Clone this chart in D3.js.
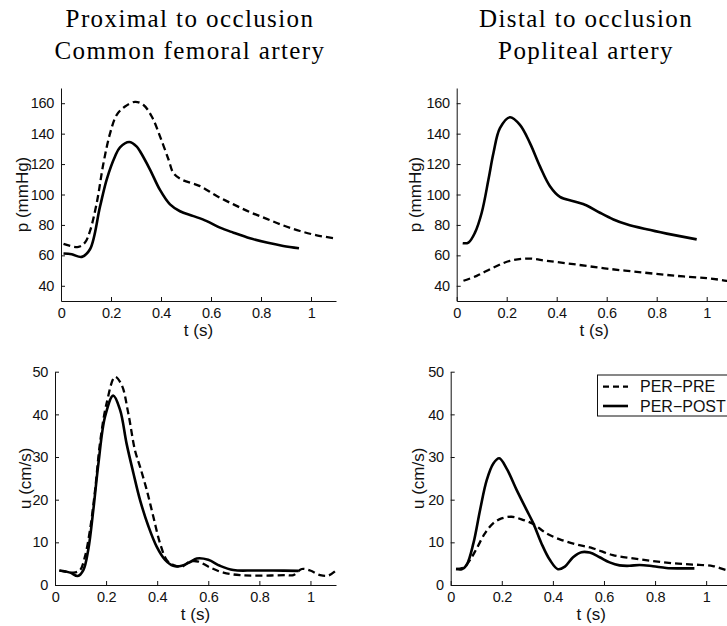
<!DOCTYPE html>
<html><head><meta charset="utf-8">
<script src="https://cdn.jsdelivr.net/npm/d3@7"></script>
<style>body{margin:0;background:#fff}svg{display:block}</style>
</head><body><svg id="c" width="727" height="626"></svg>
<script>
// ---------- data ----------
const seriesNames = ["PER\u2212PRE", "PER\u2212POST"];
const xTicks = [0, 0.2, 0.4, 0.6, 0.8, 1];
const pTicks = [40, 60, 80, 100, 120, 140, 160];
const uTicks = [0, 10, 20, 30, 40, 50];
const titlesLeft = ["Proximal to occlusion", "Common femoral artery"];
const titlesRight = ["Distal to occlusion", "Popliteal artery"];

// Common femoral artery pressure
const cfaPPostT = [0.01,0.043,0.083,0.116,0.156,0.183,0.216,0.236,0.273,0.303,0.316,0.356,0.396,0.436,0.476,0.53,0.583,0.636,0.69,0.756,0.823,0.889,0.952];
const cfaPPostV = [61.2,60.7,59,64,92,110,125,131,134.5,131.5,128.4,116.4,103,93.5,89,85.8,82.5,78.2,74.9,71.2,68.4,66.2,64.7];
const cfaPPreT = [0.01,0.07,0.096,0.116,0.143,0.17,0.196,0.223,0.256,0.296,0.329,0.363,0.396,0.43,0.45,0.483,0.556,0.623,0.69,0.756,0.823,0.889,0.956,1.023,1.1];
const cfaPPreV = [67.5,65.5,68.4,76,94.5,120.7,140,152.4,157.8,160.9,159,151.3,138.2,123,114,109.8,105.5,99,93.5,88.4,84,79.7,76,73.2,71];

// Popliteal artery pressure
const popPPostT = [0.024,0.047,0.073,0.1,0.127,0.147,0.173,0.213,0.253,0.293,0.333,0.373,0.413,0.467,0.52,0.573,0.627,0.68,0.76,0.84,0.96];
const popPPostV = [68,68.4,74.9,88,109.8,127.3,143.6,150.8,145.8,133.8,118.5,105.5,98.5,95.6,92.8,88,83.6,80.4,77.1,74.3,70.5];
const popPPreT = [0.027,0.08,0.147,0.213,0.287,0.36,0.467,0.6,0.747,0.88,1.0,1.08,1.1];
const popPPreV = [43.3,46.5,52,56.4,57.9,56.4,54.2,51.3,48.7,46.5,45,43.3,42.6];

// Common femoral artery velocity
const cfaUPostT = [0.017,0.059,0.089,0.111,0.13,0.15,0.17,0.196,0.228,0.255,0.28,0.307,0.333,0.366,0.398,0.431,0.463,0.496,0.529,0.555,0.6,0.646,0.698,0.777,0.855,0.953];
const cfaUPostV = [3.4,2.9,2.1,3.5,8.2,17.6,28.5,39.5,44.4,41,33.2,26.2,19.9,13.7,9,5.9,4.5,4.5,5.4,6.2,5.9,4.5,3.5,3.4,3.4,3.3];
const cfaUPreT = [0.017,0.072,0.098,0.117,0.137,0.157,0.176,0.202,0.235,0.261,0.287,0.313,0.333,0.359,0.385,0.411,0.437,0.463,0.496,0.529,0.561,0.607,0.659,0.725,0.803,0.907,0.933,0.966,0.999,1.038,1.07,1.1];
const cfaUPreV = [3.4,2.9,3.5,6.6,12.9,22.3,33.2,42.6,48.8,46.9,40.2,31.6,27.7,22.3,16,9.8,5.9,4.7,4.3,5.5,5.5,4.1,2.9,2.3,2.2,2.3,2.3,3.75,3.4,2.3,2.2,3.4];

// Popliteal artery velocity
const popUPostT = [0.021,0.043,0.0625,0.089,0.115,0.141,0.167,0.19,0.219,0.258,0.297,0.323,0.355,0.388,0.42,0.447,0.479,0.512,0.544,0.583,0.622,0.661,0.7,0.74,0.792,0.844,0.896,0.954];
const popUPostV = [3.75,3.7,4.7,9.8,17.6,24.6,28.5,29.7,27.3,22.3,17.6,14.5,9.8,5.9,3.7,4.3,6.5,7.7,7.6,6.5,5.3,4.6,4.5,4.7,4.4,4,3.9,3.9];
const popUPreT = [0.021,0.05,0.076,0.102,0.134,0.167,0.199,0.238,0.277,0.323,0.375,0.427,0.492,0.557,0.635,0.714,0.792,0.87,0.948,1.026,1.078,1.1];
const popUPreV = [3.75,4.1,5.9,8.6,12.1,14.5,15.6,16,15.4,14.3,12.1,10.7,9.5,8.6,7,6.25,5.6,5.1,4.8,4.45,3.5,3.2];

// ---------- drawing ----------
const svg = d3.select("#c");
const ink = "#111";
const sans = "'Liberation Sans', Arial, Helvetica, sans-serif";
const zip = (t, v) => t.map((d, i) => ({t: d, v: v[i]}));

function panel(o) {
  const x = d3.scaleLinear().domain([0, 1.1]).range(o.xr);
  const y = d3.scaleLinear().domain(o.yd).range(o.yr);
  const g = svg.append("g");

  const line = d3.line().x(d => x(d.t)).y(d => y(d.v)).curve(d3.curveCatmullRom.alpha(0.5));
  g.append("path").datum(zip(o.preT, o.preV)).attr("d", line)
    .attr("fill", "none").attr("stroke", "#000").attr("stroke-width", 2.3)
    .attr("stroke-dasharray", "7,4");
  g.append("path").datum(zip(o.postT, o.postV)).attr("d", line)
    .attr("fill", "none").attr("stroke", "#000").attr("stroke-width", 2.6);

  const ax = g.append("g").attr("transform", `translate(0,${o.yr[0]})`)
    .call(d3.axisBottom(x).tickValues(xTicks).tickSize(-4).tickSizeOuter(0).tickPadding(7)
      .tickFormat(d => String(d)));
  const ay = g.append("g").attr("transform", `translate(${o.xr[0]},0)`)
    .call(d3.axisLeft(y).tickValues(o.yt).tickSize(-4).tickSizeOuter(0).tickPadding(7));
  [ax, ay].forEach(a => {
    a.attr("font-family", sans).attr("font-size", 14.5);
    a.selectAll("path,line").attr("stroke", ink);
    a.selectAll("text").attr("fill", ink).attr("letter-spacing", "-0.3px");
  });

  g.append("text").attr("x", (o.xr[0] + o.xr[1]) / 2).attr("y", o.yr[0] + 35)
    .attr("text-anchor", "middle").attr("font-family", sans).attr("font-size", 17)
    .attr("fill", ink).text("t (s)");
  const cy = (o.yr[0] + o.yr[1]) / 2;
  g.append("text").attr("transform", `translate(${o.ylx},${cy}) rotate(-90)`)
    .attr("text-anchor", "middle").attr("dy", "0.35em").attr("font-family", sans)
    .attr("font-size", 17).attr("fill", ink).text(o.ylabel);

  if (o.legend) {
    const lg = g.append("g");
    lg.append("rect").attr("x", 597.5).attr("y", 375).attr("width", 134).attr("height", 41)
      .attr("fill", "#fff").attr("stroke", ink).attr("stroke-width", 1);
    const rows = [{dash: "6,4", sw: 2.3, yl: 386.7, yt: 392}, {dash: null, sw: 2.6, yl: 406, yt: 411.7}];
    rows.forEach((r, i) => {
      lg.append("line").attr("x1", 603).attr("x2", 628).attr("y1", r.yl).attr("y2", r.yl)
        .attr("stroke", "#000").attr("stroke-width", r.sw).attr("stroke-dasharray", r.dash);
      lg.append("text").attr("x", 640).attr("y", r.yt).attr("font-family", sans)
        .attr("font-size", 16).attr("fill", ink).text(seriesNames[i]);
    });
  }
}

panel({xr: [61, 336], yr: [301, 88], yd: [30, 170], yt: pTicks, ylabel: "p (mmHg)", ylx: 22,
  preT: cfaPPreT, preV: cfaPPreV, postT: cfaPPostT, postV: cfaPPostV});
panel({xr: [456.7, 731.7], yr: [301, 88], yd: [30, 170], yt: pTicks, ylabel: "p (mmHg)", ylx: 415,
  preT: popPPreT, preV: popPPreV, postT: popPPostT, postV: popPPostV});
panel({xr: [55, 336], yr: [585, 371.7], yd: [0, 50], yt: uTicks, ylabel: "u (cm/s)", ylx: 25,
  preT: cfaUPreT, preV: cfaUPreV, postT: cfaUPostT, postV: cfaUPostV});
panel({xr: [450.7, 731.7], yr: [585, 371.7], yd: [0, 50], yt: uTicks, ylabel: "u (cm/s)", ylx: 418,
  preT: popUPreT, preV: popUPreV, postT: popUPostT, postV: popUPostV, legend: true});

// titles
const serif = "'Liberation Serif', 'Times New Roman', serif";
[[190, titlesLeft], [586, titlesRight]].forEach(([cx, lines]) => {
  lines.forEach((s, i) => {
    svg.append("text").attr("x", cx).attr("y", 27 + i * 32).attr("text-anchor", "middle")
      .attr("font-family", serif).attr("font-size", 25).attr("letter-spacing", "1.4px")
      .attr("fill", "#000").text(s);
  });
});
</script></body></html>
